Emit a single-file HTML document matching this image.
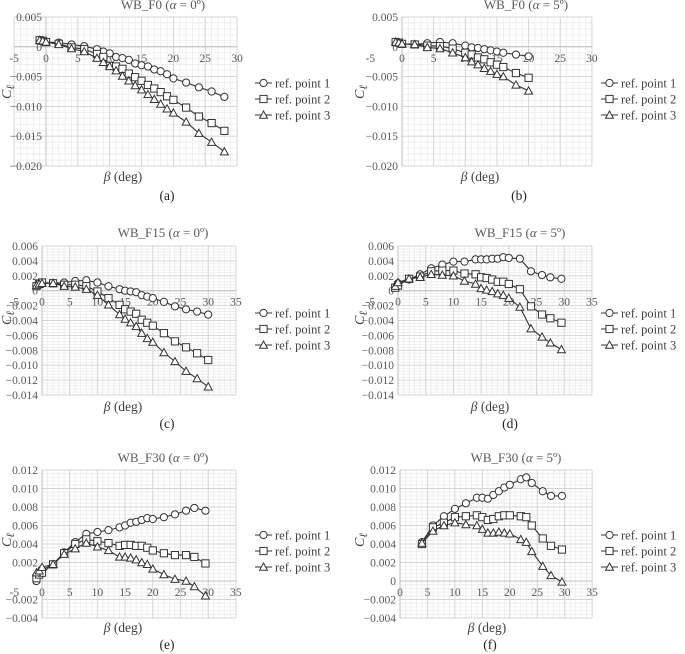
<!DOCTYPE html>
<html><head><meta charset="utf-8">
<style>
html,body{margin:0;padding:0;background:#fff;}
svg{display:block;}
svg text{font-family:"Liberation Serif","DejaVu Serif",serif;}
</style></head>
<body>
<svg id="fig" width="685" height="654" viewBox="0 0 685 654" xmlns="http://www.w3.org/2000/svg" font-family="Liberation Serif, serif"></svg>
<script>
// ---- data (beta in deg, Cl values) ----
const aX = [-1,-0.5,0,2,4,6,8,9,10,11,12,13,14,15,16,17,18,19,20,22,24,26,28];
const aS1 = [0.0011,0.0010,0.0008,0.0007,0.0004,0.0001,-0.0004,-0.0008,-0.0011,-0.0017,-0.0019,-0.0022,-0.0028,-0.0031,-0.0033,-0.0038,-0.0041,-0.0046,-0.0053,-0.0060,-0.0068,-0.0075,-0.0084];
const aS2 = [0.0011,0.0010,0.0008,0.0005,-0.0001,-0.0004,-0.0012,-0.0017,-0.0032,-0.0033,-0.0037,-0.0045,-0.0051,-0.0057,-0.0064,-0.0070,-0.0076,-0.0083,-0.0089,-0.0102,-0.0117,-0.0128,-0.0141];
const aS3 = [0.0011,0.0010,0.0008,0.0004,-0.0003,-0.0008,-0.0019,-0.0026,-0.0033,-0.0040,-0.0049,-0.0057,-0.0065,-0.0072,-0.0080,-0.0088,-0.0096,-0.0104,-0.0111,-0.0126,-0.0145,-0.0160,-0.0176];
const bX = [-1,-0.5,0,2,4,6,8,10,11,12,13,14,15,16,18,20];
const bS1 = [0.0008,0.0007,0.0005,0.0004,0.0006,0.0008,0.0006,0.0002,-0.0001,-0.0002,-0.0004,-0.0006,-0.0008,-0.0010,-0.0013,-0.0016];
const bS2 = [0.0008,0.0007,0.0005,0.0004,0.0002,0.0001,-0.0003,-0.0010,-0.0013,-0.0018,-0.0021,-0.0026,-0.0030,-0.0034,-0.0044,-0.0052];
const bS3 = [0.0008,0.0007,0.0005,0.0004,-0.0001,-0.0003,-0.0010,-0.0018,-0.0025,-0.0030,-0.0036,-0.0041,-0.0046,-0.0050,-0.0064,-0.0074];
const cX = [-1,-0.5,0,2,4,6,8,10,12,14,15,16,17,18,19,20,22,24,26,28,30];
const cS1 = [0.0007,0.0009,0.0011,0.0010,0.0011,0.0013,0.0014,0.0011,0.0006,0.0002,0.0000,-0.0001,-0.0002,-0.0006,-0.0008,-0.0010,-0.0015,-0.0021,-0.0025,-0.0028,-0.0032];
const cS2 = [0.0006,0.0009,0.0011,0.0010,0.0008,0.0008,0.0006,-0.0001,-0.0010,-0.0019,-0.0025,-0.0028,-0.0031,-0.0039,-0.0043,-0.0047,-0.0057,-0.0068,-0.0076,-0.0084,-0.0093];
const cS3 = [0.0007,0.0009,0.0010,0.0010,0.0006,0.0005,0.0002,-0.0006,-0.0019,-0.0032,-0.0038,-0.0043,-0.0048,-0.0057,-0.0064,-0.0069,-0.0083,-0.0095,-0.0108,-0.0118,-0.0129];
const dX = [-0.5,0,2,4,6,8,10,12,14,15,16,17,18,19,20,22,24,26,27.5,29.5];
const dS1 = [0.0005,0.0010,0.0015,0.0022,0.0030,0.0035,0.0039,0.0039,0.0042,0.0042,0.0042,0.0043,0.0043,0.0045,0.0044,0.0043,0.0026,0.0021,0.0018,0.0016];
const dS2 = [0.0004,0.0007,0.0016,0.0019,0.0026,0.0027,0.0027,0.0023,0.0022,0.0018,0.0017,0.0015,0.0012,0.0012,0.0009,0.0002,-0.0021,-0.0032,-0.0037,-0.0043];
const dS3 = [0.0006,0.0011,0.0016,0.0018,0.0022,0.0021,0.0020,0.0013,0.0009,0.0003,0.0001,-0.0001,-0.0004,-0.0006,-0.0010,-0.0022,-0.0051,-0.0062,-0.0070,-0.0079];
const eX = [-1,-0.5,0,2,4,6,8,10,12,14,15,16,17,18,19,20,22,24,26,27.5,29.5];
const eS1 = [0.0000,0.0008,0.0012,0.0018,0.0031,0.0042,0.0051,0.0053,0.0055,0.0058,0.0060,0.0063,0.0064,0.0066,0.0068,0.0067,0.0069,0.0072,0.0076,0.0079,0.0076];
const eS2 = [0.0003,0.0007,0.0009,0.0018,0.0030,0.0040,0.0045,0.0043,0.0041,0.0038,0.0039,0.0039,0.0038,0.0038,0.0036,0.0033,0.0030,0.0028,0.0028,0.0026,0.0019];
const eS3 = [0.0009,0.0011,0.0015,0.0018,0.0029,0.0035,0.0041,0.0037,0.0033,0.0026,0.0026,0.0025,0.0023,0.0020,0.0018,0.0013,0.0007,0.0002,0.0000,-0.0006,-0.0016];
const fX = [4,6,8,10,12,14,15,16,17,18,19,20,22,23,24,26,27.5,29.5];
const fS1 = [0.0042,0.0060,0.0070,0.0078,0.0084,0.0090,0.0090,0.0089,0.0093,0.0097,0.0101,0.0104,0.0110,0.0112,0.0106,0.0097,0.0092,0.0092];
const fS2 = [0.0040,0.0058,0.0063,0.0069,0.0070,0.0071,0.0069,0.0066,0.0067,0.0070,0.0071,0.0071,0.0070,0.0069,0.0060,0.0046,0.0038,0.0034];
const fS3 = [0.0041,0.0054,0.0060,0.0063,0.0061,0.0060,0.0056,0.0052,0.0052,0.0053,0.0052,0.0051,0.0045,0.0042,0.0032,0.0016,0.0006,-0.0001];
const yTicksF0 = [0.005,0,-0.005,-0.010,-0.015,-0.020];
const yTicksF15 = [0.006,0.004,0.002,0,-0.002,-0.004,-0.006,-0.008,-0.010,-0.012,-0.014];
const yTicksF30 = [0.012,0.010,0.008,0.006,0.004,0.002,0,-0.002,-0.004];
const xTicks30 = [-5,0,5,10,15,20,25,30];
const xTicks35 = [-5,0,5,10,15,20,25,30,35];
const xTicks35f = [0,5,10,15,20,25,30,35];
const legendLabels = ["ref. point 1","ref. point 2","ref. point 3"];

const NS = "http://www.w3.org/2000/svg";
const FONT = "Liberation Serif, DejaVu Serif, serif";
const svg = document.getElementById('fig');
function el(tag, attrs, parent){
  const e = document.createElementNS(NS, tag);
  for (const k in attrs) e.setAttribute(k, attrs[k]);
  if (tag === 'text') e.setAttribute('font-family', FONT);
  (parent||svg).appendChild(e);
  return e;
}
function fmt(v){
  if (Math.abs(v) < 1e-9) return "0";
  const s = Math.abs(v).toFixed(3);
  return (v < 0 ? "\u2212" : "") + s;
}

const panels = [
 {id:'a', title:'WB_F0', alpha:'0', xs:[aX,aX,aX], ys:[aS1,aS2,aS3], x0:46, xUnit:6.37, xMin:-5, xMax:30, gridMin:-5, xt:xTicks30, yt:yTicksF0, yTop:0.005, yBot:-0.020, pTop:17, pBot:166, tx:163, ty:9, yTitle:[7,92], xTitle:[123,181], cap:[167,200], legX:255, legY:99},
 {id:'b', title:'WB_F0', alpha:'5', xs:[bX,bX,bX], ys:[bS1,bS2,bS3], x0:402, xUnit:6.33, xMin:-5, xMax:30, gridMin:0, xt:xTicks30, yt:yTicksF0, yTop:0.005, yBot:-0.020, pTop:17, pBot:166, tx:526, ty:9, yTitle:[360,92], xTitle:[480,181], cap:[519,200], legX:601, legY:99},
 {id:'c', title:'WB_F15', alpha:'0', xs:[cX,cX,cX], ys:[cS1,cS2,cS3], x0:42, xUnit:5.54, xMin:-5, xMax:35, gridMin:0, xt:xTicks35, yt:yTicksF15, yTop:0.006, yBot:-0.014, pTop:246, pBot:395, tx:163, ty:237, yTitle:[7,318], xTitle:[123,411], cap:[167,428], legX:255, legY:329},
 {id:'d', title:'WB_F15', alpha:'5', xs:[dX,dX,dX], ys:[dS1,dS2,dS3], x0:398, xUnit:5.54, xMin:-5, xMax:35, gridMin:0, xt:xTicks35, yt:yTicksF15, yTop:0.006, yBot:-0.014, pTop:246, pBot:395, tx:520, ty:237, yTitle:[360,318], xTitle:[490,411], cap:[510,428], legX:601, legY:329},
 {id:'e', title:'WB_F30', alpha:'0', xs:[eX,eX,eX], ys:[eS1,eS2,eS3], x0:42, xUnit:5.54, xMin:-5, xMax:35, gridMin:0, xt:xTicks35, yt:yTicksF30, yTop:0.012, yBot:-0.004, pTop:470, pBot:618, tx:163, ty:462, yTitle:[7,540], xTitle:[123,632], cap:[167,649], legX:255, legY:551},
 {id:'f', title:'WB_F30', alpha:'5', xs:[fX,fX,fX], ys:[fS1,fS2,fS3], x0:400, xUnit:5.49, xMin:0, xMax:35, gridMin:0, xt:xTicks35f, yt:yTicksF30, yTop:0.012, yBot:-0.004, pTop:470, pBot:618, tx:516, ty:462, yTitle:[360,540], xTitle:[487,632], cap:[490,649], legX:601, legY:551}
];

function marker(g, kind, cx, cy){
  let m;
  if (kind === 0) m = el('circle', {cx:cx, cy:cy, r:3.6, fill:'#fff', stroke:'#333', 'stroke-width':1}, g);
  else if (kind === 1) m = el('rect', {x:cx-3.6, y:cy-3.6, width:7.2, height:7.2, fill:'#fff', stroke:'#333', 'stroke-width':1}, g);
  else m = el('polygon', {points:`${cx},${cy-4} ${cx+4},${cy+3.2} ${cx-4},${cy+3.2}`, fill:'#fff', stroke:'#333', 'stroke-width':1}, g);
  return m;
}

panels.forEach(p => {
  const xs = v => p.x0 + v * p.xUnit;
  const ys = v => p.pTop + (p.yTop - v) / (p.yTop - p.yBot) * (p.pBot - p.pTop);
  const g = el('g', {});
  
  
  const gl = xs(p.gridMin), gr = xs(p.xMax);
  const grid = el('g', {}, g);
  
  
  const yStep = (p.yt[0] - p.yt[1]) / 5;
  for (let v = p.yBot; v <= p.yTop + 1e-9; v += yStep) {
    el('line', {x1:gl, x2:gr, y1:ys(v), y2:ys(v), stroke:'#ececec', 'stroke-width':0.8}, grid);
  }
  for (let v = p.gridMin; v <= p.xMax + 1e-9; v += 1) {
    el('line', {x1:xs(v), x2:xs(v), y1:p.pTop, y2:p.pBot, stroke:'#ececec', 'stroke-width':0.8}, grid);
  }
  p.yt.forEach(v => {
    el('line', {x1:gl, x2:gr, y1:ys(v), y2:ys(v), stroke:'#d4d4d4', 'stroke-width':0.9}, grid);
  });
  p.xt.forEach(v => {
    if (v >= p.gridMin) el('line', {x1:xs(v), x2:xs(v), y1:p.pTop, y2:p.pBot, stroke:'#d4d4d4', 'stroke-width':0.9}, grid);
  });
  const xAxis = el('line', {x1:gl, x2:gr, y1:ys(0), y2:ys(0), stroke:'#bfbfbf', 'stroke-width':1}, g);
  
  
  const yAxis = el('line', {x1:xs(0), x2:xs(0), y1:p.pTop, y2:p.pBot, stroke:'#bfbfbf', 'stroke-width':1}, g);
  
  
  p.yt.forEach(v => {
    const t = el('text', {x:xs(0)-4, y:ys(v)+4, 'text-anchor':'end', 'font-size':11.5, fill:'#595959'}, g);
    t.textContent = fmt(v);
    
    
  });
  p.xt.forEach(v => {
    const t = el('text', {x:xs(v), y:ys(0)+15, 'text-anchor':'middle', 'font-size':11.5, fill:'#595959'}, g);
    t.textContent = String(v);
    
    
  });
  for (let s = 0; s < 3; s++) {
    const sg = el('g', {}, g);
    
    
    const X = p.xs[s], Y = p.ys[s];
    const pts = X.map((x, i) => xs(x).toFixed(1) + ',' + ys(Y[i]).toFixed(1)).join(' ');
    const line = el('polyline', {points:pts, fill:'none', stroke:'#333', 'stroke-width':1.1}, sg);
    
    
    X.forEach((x, i) => {
      const m = marker(sg, s, xs(x), ys(Y[i]));
      
      
    });
  }
  const t = el('text', {x:p.tx, y:p.ty, 'text-anchor':'middle', 'font-size':13, fill:'#595959'}, g);
  
  
  t.innerHTML = p.title + ' (<tspan font-style="italic">α</tspan> = ' + p.alpha + 'º)';
  const yt = el('text', {x:p.yTitle[0], y:p.yTitle[1], 'text-anchor':'middle', 'font-size':14, fill:'#404040', transform:`rotate(-90 ${p.yTitle[0]} ${p.yTitle[1]})`, dy:4}, g);
  
  
  yt.innerHTML = '<tspan font-style="italic">C</tspan><tspan font-style="italic" font-size="11" dy="3">ℓ</tspan>';
  const xt = el('text', {x:p.xTitle[0], y:p.xTitle[1], 'text-anchor':'middle', 'font-size':13.5, fill:'#404040'}, g);
  
  
  xt.innerHTML = '<tspan font-style="italic">β</tspan> (deg)';
  const cp = el('text', {x:p.cap[0], y:p.cap[1], 'text-anchor':'middle', 'font-size':13.5, fill:'#222'}, g);
  
  
  cp.textContent = '(' + p.id + ')';
  const lg = el('g', {}, g);
  
  
  for (let s = 0; s < 3; s++) {
    const cy = p.legY + (s - 1) * 16;
    const e = el('g', {}, lg);
    
    
    el('line', {x1:p.legX, x2:p.legX+17, y1:cy, y2:cy, stroke:'#333', 'stroke-width':1.1}, e);
    marker(e, s, p.legX+8.5, cy);
    const lt = el('text', {x:p.legX+20, y:cy+4.5, 'font-size':12.5, fill:'#404040'}, e);
    lt.textContent = legendLabels[s];
  }
});
</script>
</body></html>
